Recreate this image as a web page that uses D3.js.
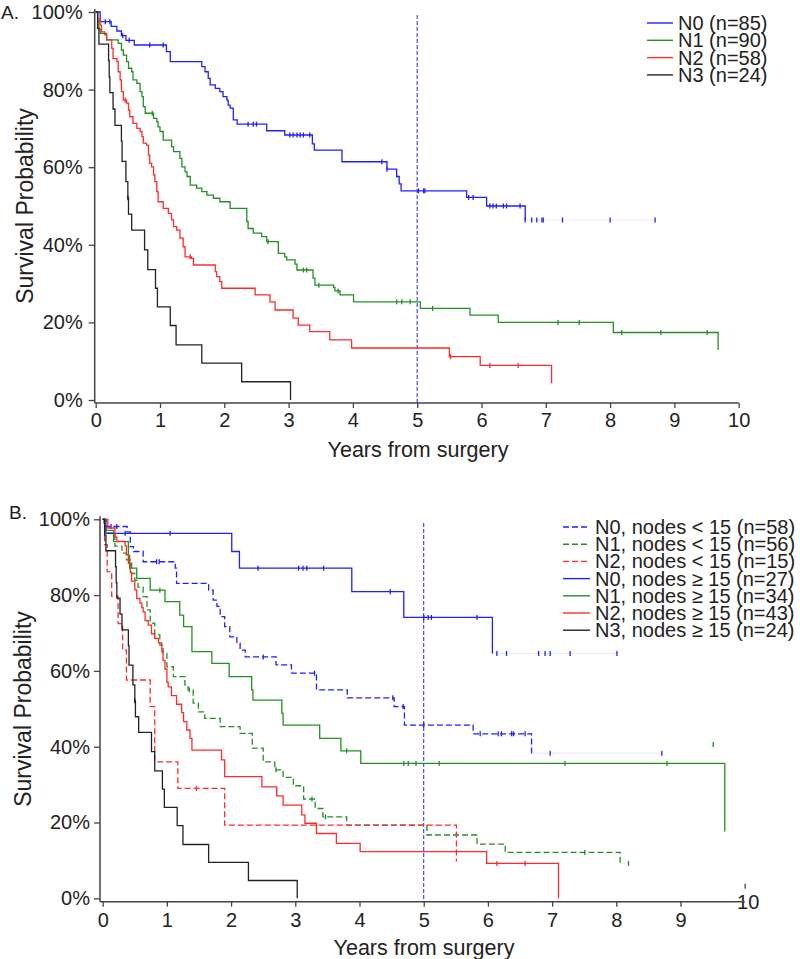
<!DOCTYPE html>
<html><head><meta charset="utf-8">
<script src="https://cdn.jsdelivr.net/npm/d3@7"></script>
<style>html,body{margin:0;padding:0;background:#fff}svg{display:block}</style>
</head><body>
<svg id="chart" width="800" height="959"></svg>
<script>
// ---------------- DATA ----------------
const xTicks = [0,1,2,3,4,5,6,7,8,9,10];
const yTicks = [0,0.2,0.4,0.6,0.8,1];
const yTickLabels = ["0%","20%","40%","60%","80%","100%"];
const xTitle = "Years from surgery";
const yTitle = "Survival Probability";
const refYear = 5;

// Panel A: [years, survival] at each event, plus censor times
const aN0 = [[0,1],[0.07,0.975],[0.24,0.963],[0.33,0.951],[0.40,0.939],[0.47,0.927],[0.60,0.915],[1.10,0.898],[1.16,0.872],[1.65,0.859],[1.70,0.846],[1.75,0.829],[1.78,0.812],[1.86,0.803],[1.93,0.795],[1.98,0.782],[2.04,0.773],[2.06,0.760],[2.09,0.752],[2.14,0.722],[2.20,0.711],[2.66,0.694],[2.94,0.683],[3.37,0.660],[3.40,0.644],[3.83,0.614],[4.53,0.595],[4.68,0.576],[4.72,0.557],[4.75,0.539],[5.77,0.522],[6.08,0.500],[6.68,0.464]];
const aN0c = [0.15,0.22,0.42,0.52,0.84,1.05,2.37,2.45,2.50,3.02,3.07,3.13,3.18,3.23,3.33,4.45,4.53,5.02,5.10,5.12,5.80,5.87,6.13,6.18,6.23,6.34,6.39,6.60,6.68,6.78,6.86,6.94,6.96,7.26,8.00,8.70];
const aN1 = [[0,1],[0.03,0.978],[0.05,0.956],[0.07,0.945],[0.17,0.928],[0.35,0.919],[0.40,0.902],[0.43,0.889],[0.48,0.872],[0.51,0.855],[0.56,0.846],[0.58,0.825],[0.64,0.816],[0.69,0.795],[0.72,0.782],[0.74,0.756],[0.77,0.739],[0.90,0.726],[0.95,0.717],[0.97,0.704],[1.00,0.692],[1.05,0.670],[1.18,0.653],[1.21,0.640],[1.31,0.623],[1.34,0.601],[1.39,0.588],[1.42,0.576],[1.47,0.554],[1.57,0.546],[1.65,0.537],[1.73,0.528],[1.83,0.520],[1.93,0.511],[2.09,0.494],[2.35,0.460],[2.37,0.442],[2.45,0.430],[2.58,0.421],[2.66,0.408],[2.84,0.378],[2.94,0.369],[2.97,0.361],[3.10,0.350],[3.13,0.335],[3.38,0.314],[3.41,0.296],[3.70,0.290],[3.72,0.281],[3.80,0.271],[4.01,0.253],[5.05,0.236],[5.82,0.219],[6.26,0.200],[8.05,0.174],[9.68,0.129]];
const aN1c = [0.88,2.68,3.23,3.28,3.47,3.77,4.68,4.76,4.89,5.24,7.19,7.52,8.18,8.79,9.51];
const aN2 = [[0,1],[0.03,0.983],[0.07,0.966],[0.09,0.949],[0.14,0.941],[0.17,0.928],[0.25,0.906],[0.27,0.880],[0.33,0.872],[0.35,0.846],[0.38,0.825],[0.40,0.795],[0.43,0.773],[0.48,0.765],[0.51,0.747],[0.53,0.730],[0.58,0.713],[0.64,0.700],[0.69,0.692],[0.72,0.679],[0.74,0.662],[0.79,0.657],[0.82,0.631],[0.84,0.610],[0.87,0.601],[0.90,0.580],[0.92,0.563],[0.95,0.537],[0.97,0.511],[1.05,0.494],[1.13,0.481],[1.18,0.464],[1.21,0.447],[1.26,0.438],[1.31,0.417],[1.36,0.395],[1.39,0.369],[1.49,0.365],[1.52,0.348],[1.86,0.331],[1.88,0.318],[1.93,0.305],[1.96,0.288],[2.48,0.271],[2.71,0.253],[2.79,0.232],[3.07,0.211],[3.15,0.193],[3.33,0.176],[3.64,0.155],[3.98,0.134],[5.50,0.112],[5.98,0.089],[7.09,0.043]];
const aN2c = [0.46,1.47,5.52,6.13,6.57];
const n3 = [[0,1],[0.03,0.958],[0.05,0.917],[0.20,0.875],[0.21,0.833],[0.22,0.792],[0.27,0.750],[0.30,0.708],[0.40,0.667],[0.41,0.615],[0.47,0.563],[0.50,0.521],[0.51,0.479],[0.56,0.438],[0.76,0.387],[0.81,0.336],[0.93,0.288],[0.96,0.240],[1.16,0.192],[1.25,0.142],[1.65,0.095],[2.27,0.047],[3.03,0]];
const n3c = [0.50];

// Panel B
const bN0lt = [[0,1],[0.05,0.981],[0.38,0.967],[0.43,0.928],[0.48,0.915],[0.63,0.888],[1.13,0.871],[1.15,0.831],[1.65,0.813],[1.72,0.787],[1.78,0.770],[1.83,0.743],[1.90,0.717],[1.98,0.690],[2.09,0.673],[2.14,0.655],[2.22,0.637],[2.70,0.616],[2.94,0.594],[3.33,0.550],[3.81,0.529],[4.54,0.506],[4.70,0.457],[5.77,0.434],[6.68,0.383]];
const bN0ltc = [0.13,0.22,0.84,0.88,2.50,3.30,4.52,4.68,5.00,5.88,6.16,6.21,6.37,6.40,6.58,6.97,8.71];
const bN1lt = [[0,1],[0.02,0.982],[0.05,0.964],[0.19,0.929],[0.30,0.911],[0.37,0.893],[0.45,0.857],[0.50,0.839],[0.55,0.821],[0.63,0.796],[0.69,0.761],[0.74,0.726],[0.81,0.695],[0.89,0.668],[0.94,0.646],[1.00,0.611],[1.10,0.585],[1.28,0.563],[1.33,0.550],[1.41,0.515],[1.49,0.492],[1.59,0.475],[1.83,0.453],[2.14,0.435],[2.33,0.396],[2.50,0.360],[2.68,0.339],[2.81,0.319],[2.97,0.297],[3.13,0.262],[3.31,0.237],[3.43,0.215],[3.80,0.193],[5.05,0.167],[5.83,0.143],[6.27,0.121],[8.06,0.092]];
const bN1ltc = [1.35,2.70,3.26,3.47,5.51,7.51,8.19];
const bN2lt = [[0,1],[0.03,0.933],[0.07,0.862],[0.14,0.797],[0.24,0.725],[0.31,0.655],[0.37,0.576],[0.74,0.506],[0.81,0.360],[1.17,0.290],[1.90,0.193],[5.51,0.097]];
const bN2ltc = [1.46];
const bN0ge = [[0,1],[0.05,0.963],[2.01,0.915],[2.13,0.871],[3.88,0.809],[4.69,0.741],[6.07,0.646]];
const bN0gec = [0.35,1.05,2.42,3.05,3.12,3.18,3.44,4.48,5.00,5.07,5.12,5.83,6.14,6.29,6.79,6.89,6.97,7.28,8.01];
const bN1ge = [[0,1],[0.03,0.971],[0.17,0.941],[0.40,0.905],[0.42,0.871],[0.53,0.844],[0.74,0.813],[0.97,0.783],[1.20,0.747],[1.26,0.717],[1.39,0.651],[1.70,0.620],[1.97,0.585],[2.32,0.550],[2.34,0.523],[2.79,0.488],[2.81,0.457],[3.38,0.422],[3.71,0.389],[4.02,0.356],[9.69,0.176]];
const bN1gec = [0.89,3.80,4.69,4.76,4.88,5.24,7.20,8.79];
const bN1geStray = [[9.51,0.406]];
const bN2ge = [[0,1],[0.08,0.977],[0.19,0.953],[0.22,0.942],[0.35,0.930],[0.37,0.907],[0.40,0.884],[0.43,0.860],[0.45,0.837],[0.50,0.814],[0.53,0.791],[0.58,0.779],[0.61,0.767],[0.63,0.756],[0.66,0.733],[0.71,0.721],[0.76,0.698],[0.81,0.686],[0.87,0.674],[0.92,0.651],[0.94,0.628],[0.97,0.605],[1.00,0.570],[1.02,0.558],[1.07,0.535],[1.15,0.512],[1.23,0.490],[1.26,0.466],[1.31,0.444],[1.36,0.422],[1.39,0.391],[1.85,0.365],[1.90,0.321],[2.48,0.294],[2.71,0.270],[2.81,0.246],[3.10,0.220],[3.15,0.198],[3.33,0.171],[3.64,0.145],[4.01,0.123],[5.98,0.092],[7.10,0]];
const bN2gec = [6.14,6.58];

const legendA = ["N0 (n=85)","N1 (n=90)","N2 (n=58)","N3 (n=24)"];
const legendB = ["N0, nodes < 15 (n=58)","N1, nodes < 15 (n=56)","N2, nodes < 15 (n=15)","N0,  nodes \u2265 15 (n=27)","N1,  nodes \u2265 15 (n=34)","N2,  nodes \u2265 15 (n=43)","N3,  nodes \u2265 15 (n=24)"];

// ---------------- STYLE ----------------
const FONT = "'Liberation Sans', Arial, Helvetica, sans-serif";
const C = {blue:"#1f1fff", green:"#229022", red:"#ff2a2a", black:"#222222"};
const AX = "#444";
const svg = d3.select("#chart");
svg.append("rect").attr("width",800).attr("height",959).attr("fill","#fff");

function survAt(steps,t){let s=1;for(const [tt,ss] of steps){if(tt<=t)s=ss;}return s;}

function drawPanel(cfg){
  const {x,y,g,series,legend,legendCfg,label} = cfg;
  const line = d3.line().x(d=>x(d[0])).y(d=>y(d[1])).curve(d3.curveStepAfter);
  g.append("line").attr("x1",x(refYear)).attr("x2",x(refYear))
    .attr("y1",cfg.refTop).attr("y2",y(0)+cfg.axOff)
    .attr("stroke","#3838ff").attr("stroke-width",1.1).attr("stroke-dasharray","4,2");
  series.forEach(s=>{
    const last = s.steps[s.steps.length-1];
    g.append("path").datum(s.steps).attr("d",line).attr("fill","none")
      .attr("stroke",s.color).attr("stroke-width",1.3)
      .attr("stroke-dasharray",s.dash||null);
    const maxC = d3.max(s.censor)||0;
    if(maxC>last[0]){
      g.append("line").attr("x1",x(last[0])).attr("x2",x(maxC))
        .attr("y1",y(last[1])).attr("y2",y(last[1]))
        .attr("stroke",s.color).attr("stroke-width",1).attr("opacity",0.1);
    }
    const pts = s.censor.map(t=>[t,survAt(s.steps,t)]).concat(s.stray||[]);
    g.selectAll(null).data(pts).enter().append("line")
      .attr("x1",d=>x(d[0])).attr("x2",d=>x(d[0]))
      .attr("y1",d=>y(d[1])-2.5).attr("y2",d=>y(d[1])+2.5)
      .attr("stroke",s.color).attr("stroke-width",1.3);
  });
  const xAxis = g.append("g").attr("transform",`translate(0,${y(0)+cfg.axOff})`)
    .call(d3.axisBottom(x).tickValues(xTicks).tickFormat(d3.format("d")).tickSize(5).tickPadding(cfg.xPad).tickSizeOuter(0));
  xAxis.select(".domain").remove();
  xAxis.append("line").attr("x1",x(0)-cfg.yOff).attr("x2",x(10)).attr("stroke",AX).attr("stroke-width",1.5);
  xAxis.selectAll(".tick line").attr("stroke",AX).attr("stroke-width",1.3);
  xAxis.selectAll(".tick text").attr("font-family",FONT).attr("font-size",20).attr("fill","#222");
  if(cfg.oddTen){
    xAxis.selectAll(".tick").filter(d=>d===10).each(function(){
      const t=d3.select(this);
      t.select("line").attr("y1",-18).attr("y2",-13);
      t.select("text").attr("y",0).attr("dy","0.35em").attr("x",3);
    });
  }
  const yAxis = g.append("g").attr("transform",`translate(${x(0)-cfg.yOff},0)`)
    .call(d3.axisLeft(y).tickValues(yTicks).tickFormat((d,i)=>yTickLabels[i]).tickSize(6).tickPadding(cfg.yPad).tickSizeOuter(0));
  yAxis.select(".domain").remove();
  yAxis.append("line").attr("y1",y(1)-3).attr("y2",y(0)+cfg.axOff).attr("stroke",AX).attr("stroke-width",1.5);
  yAxis.selectAll(".tick line").attr("stroke",AX).attr("stroke-width",1.3);
  yAxis.selectAll(".tick text").attr("font-family",FONT).attr("font-size",20).attr("fill","#222");
  g.append("text").attr("x",cfg.xTitleX).attr("y",cfg.xTitleY).attr("text-anchor","middle")
    .attr("font-family",FONT).attr("font-size",21.5).attr("fill","#222").text(xTitle);
  g.append("text").attr("transform",`translate(${cfg.yTitleX},${cfg.yTitleY}) rotate(-90)`)
    .attr("text-anchor","middle").attr("dominant-baseline","central")
    .attr("font-family",FONT).attr("font-size",23).attr("fill","#222").text(yTitle);
  g.append("text").attr("x",label.x).attr("y",label.y).attr("font-family",FONT)
    .attr("font-size",19).attr("fill","#222").text(label.text);
  const lg = g.append("g");
  legend.forEach((txt,i)=>{
    const s = series[legendCfg.order[i]];
    const yy = legendCfg.y0 + i*legendCfg.dy;
    lg.append("line").attr("x1",legendCfg.x0).attr("x2",legendCfg.x1).attr("y1",yy).attr("y2",yy)
      .attr("stroke",s.color).attr("stroke-width",1.4).attr("stroke-dasharray",s.dash||null);
    lg.append("text").attr("x",legendCfg.tx).attr("y",yy).attr("dy","0.35em")
      .attr("font-family",FONT).attr("font-size",20).attr("fill","#222").text(txt);
  });
}

// Panel A
const xA = d3.scaleLinear([0,10],[95.7,738.7]);
const yA = d3.scaleLinear([0,1],[400,12]);
const seriesA = [
  {steps:aN0, censor:aN0c, color:C.blue},
  {steps:aN1, censor:aN1c, color:C.green},
  {steps:aN2, censor:aN2c, color:C.red},
  {steps:n3, censor:n3c, color:C.black}
];
drawPanel({x:xA,y:yA,g:svg.append("g"),series:seriesA,legend:legendA,
  legendCfg:{order:[0,1,2,3],x0:647,x1:673,tx:678,y0:23,dy:17.3},
  refTop:15, axOff:3, yOff:1, xPad:5, yPad:6, xTitleX:418, xTitleY:457,
  yTitleX:25, yTitleY:206, label:{x:1,y:19,text:"A."}});

// Panel B
const xB = d3.scaleLinear([0,10],[102.7,744.7]);
const yB = d3.scaleLinear([0,1],[898.3,519.3]);
const dashed = "6,3";
const seriesB = [
  {steps:bN0lt, censor:bN0ltc, color:C.blue, dash:dashed},
  {steps:bN1lt, censor:bN1ltc, color:C.green, dash:dashed},
  {steps:bN2lt, censor:bN2ltc, color:C.red, dash:dashed},
  {steps:bN0ge, censor:bN0gec, color:C.blue},
  {steps:bN1ge, censor:bN1gec, color:C.green, stray:bN1geStray},
  {steps:bN2ge, censor:bN2gec, color:C.red},
  {steps:n3, censor:n3c, color:C.black}
];
drawPanel({x:xB,y:yB,g:svg.append("g"),series:seriesB,legend:legendB,
  legendCfg:{order:[0,1,2,3,4,5,6],x0:563,x1:590,tx:595,y0:527,dy:17.2},
  refTop:523, axOff:3.4, yOff:2.7, xPad:6, yPad:4, xTitleX:424, xTitleY:955,
  yTitleX:23, yTitleY:709, label:{x:9,y:519,text:"B."}, oddTen:true});
</script>
</body></html>
